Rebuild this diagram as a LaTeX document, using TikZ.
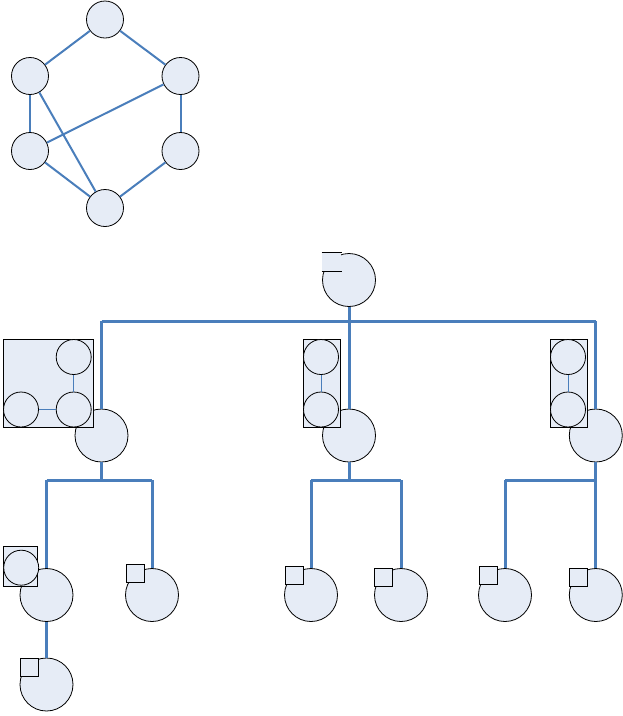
\documentclass[tikz,border=0pt]{standalone}
\usetikzlibrary{calc}
\definecolor{lineblue}{RGB}{74,126,187}
\definecolor{fillblue}{RGB}{230,236,246}
\tikzset{
  gc/.style={circle,draw=black,line width=0.8pt,fill=fillblue,minimum size=37pt,inner sep=0pt},
  bigc/.style={circle,draw=black,line width=0.8pt,fill=fillblue,minimum size=53pt,inner sep=0pt},
  smc/.style={circle,draw=black,line width=0.8pt,fill=fillblue,minimum size=35pt,inner sep=0pt},
  sqn/.style={rectangle,draw=black,line width=0.8pt,fill=fillblue,minimum width=18pt,minimum height=18pt,inner sep=0pt},
  boxn/.style={rectangle,draw=black,line width=0.8pt,fill=fillblue,inner sep=0pt},
  gedge/.style={draw=lineblue,line width=2pt},
  bus/.style={draw=lineblue,line width=3pt},
  thinedge/.style={draw=lineblue,line width=0.9pt},
  blk/.style={draw=black,line width=0.8pt}
}
\begin{document}
\begin{tikzpicture}[x=1pt,y=-1pt]
\path[use as bounding box] (0,0) rectangle (623,716);
% ---------- top graph ----------
\node[gc] (t) at (105,19.5) {};
\node[gc] (ul) at (30,76) {};
\node[gc] (ur) at (180.5,76) {};
\node[gc] (ll) at (30,151) {};
\node[gc] (lr) at (180.5,151) {};
\node[gc] (b) at (105,208) {};
\draw[gedge] (t) -- (ul);
\draw[gedge] (t) -- (ur);
\draw[gedge] (ul) -- (ll);
\draw[gedge] (ul) -- (b);
\draw[gedge] (ll) -- (ur);
\draw[gedge] (ur) -- (lr);
\draw[gedge] (ll) -- (b);
\draw[gedge] (lr) -- (b);
% ---------- tree ----------
% root
\node[bigc] (root) at (349,280) {};
\node[sqn,draw=none,minimum width=19.5pt,minimum height=17.5pt] (rsq) at (331.7,261.8) {};
\draw[blk] (rsq.north west) -- (rsq.north east);
\draw[blk] (rsq.south west) -- (rsq.south east);
% level 2
\node[bigc] (A) at (101.5,435.5) {};
\node[bigc] (B) at (349,435.5) {};
\node[bigc] (C) at (595.8,435.5) {};
% box A
\node[boxn,minimum width=90pt,minimum height=88.3pt] (Abox) at (48.3,383.2) {};
\node[smc] (a1) at (73.7,357) {};
\node[smc] (a2) at (21,409.5) {};
\node[smc] (a3) at (73.7,409.5) {};
\draw[thinedge] (a1) -- (a3);
\draw[thinedge] (a2) -- (a3);
% box B
\node[boxn,minimum width=37pt,minimum height=88.3pt] (Bbox) at (321.8,383.2) {};
\node[smc] (b1) at (321,357) {};
\node[smc] (b2) at (321,409.5) {};
\draw[thinedge] (b1) -- (b2);
% box C
\node[boxn,minimum width=37pt,minimum height=88.3pt] (Cbox) at (568.8,383.2) {};
\node[smc] (c1) at (568,357) {};
\node[smc] (c2) at (568,409.5) {};
\draw[thinedge] (c1) -- (c2);
% level 3
\node[bigc] (L3a) at (46.5,595) {};
\node[boxn,minimum width=34pt,minimum height=39.3pt] (L3abox) at (20.3,566.3) {};
\node[smc] (L3ac) at (21.2,567.7) {};
\node[bigc] (L3b) at (152,595) {};
\node[sqn] (L3bsq) at (135.5,573.3) {};
\node[bigc] (M3a) at (311,595) {};
\node[sqn] (M3asq) at (294.7,575.5) {};
\node[bigc] (M3b) at (401,595) {};
\node[sqn] (M3bsq) at (383.5,577) {};
\node[bigc] (R3a) at (505,595) {};
\node[sqn] (R3asq) at (488.3,575.5) {};
\node[bigc] (R3b) at (595.8,595) {};
\node[sqn] (R3bsq) at (578.3,577) {};
% level 4
\node[bigc] (L4) at (46.5,684.5) {};
\node[sqn] (L4sq) at (29.7,667.2) {};
% bus coordinates
\coordinate (j0) at (349,321);
\coordinate (jA) at (101.5,321);
\coordinate (jC) at (595.8,321);
\coordinate (kA) at (101.5,480);
\coordinate (kA1) at (46.5,480);
\coordinate (kA2) at (152,480);
\coordinate (kB) at (349,480);
\coordinate (kB1) at (311,480);
\coordinate (kB2) at (401,480);
\coordinate (kC) at (595.8,480);
\coordinate (kC1) at (505,480);
% bus lines
\draw[bus] (root) -- (j0);
\draw[bus] (jA) -- (jC);
\draw[bus] (jA) -- (A);
\draw[bus] (j0) -- (B);
\draw[bus] (jC) -- (C);
\draw[bus] (A) -- (kA);
\draw[bus] (kA1) -- (kA2);
\draw[bus] (kA1) -- (L3a);
\draw[bus] (kA2) -- (L3b);
\draw[bus] (B) -- (kB);
\draw[bus] (kB1) -- (kB2);
\draw[bus] (kB1) -- (M3a);
\draw[bus] (kB2) -- (M3b);
\draw[bus] (C) -- (kC);
\draw[bus] (kC1) -- (kC);
\draw[bus] (kC1) -- (R3a);
\draw[bus] (kC) -- (R3b);
\draw[bus] (L3a) -- (L4);
\end{tikzpicture}
\end{document}
